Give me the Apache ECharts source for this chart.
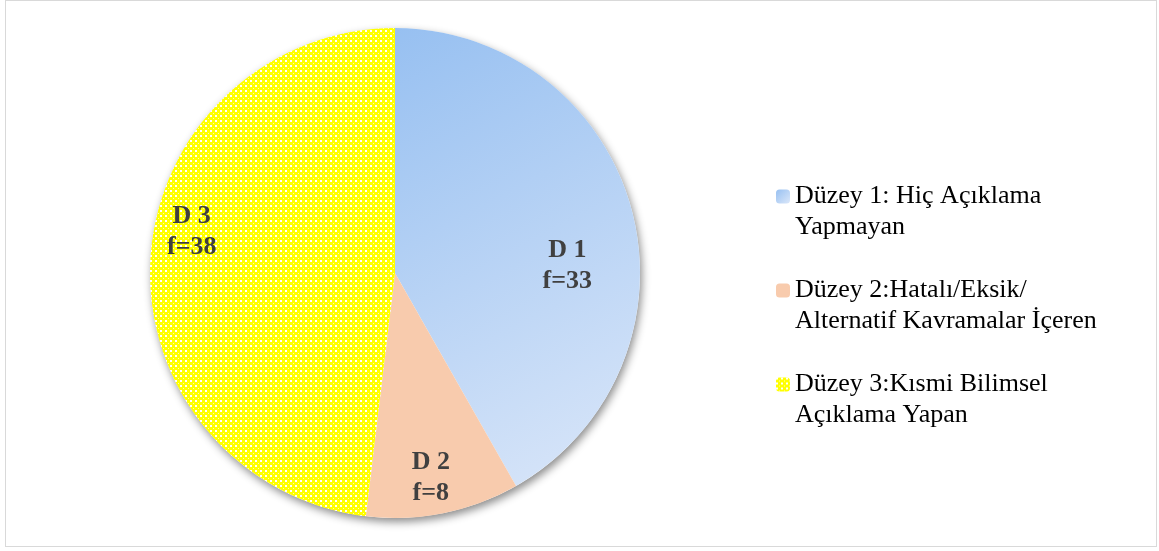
<!DOCTYPE html>
<html>
<head>
<meta charset="utf-8">
<script src="https://cdn.jsdelivr.net/npm/echarts@6/dist/echarts.min.js"></script>
<style>
  html, body { margin: 0; padding: 0; background: #fff; }
  #frame { position: absolute; left: 5px; top: 0; width: 1152px; height: 547px; border: 1px solid #d9d9d9; box-sizing: border-box; }
  #chart { position: absolute; left: 0; top: 0; width: 1159px; height: 551px; }
</style>
</head>
<body>
<div id="frame"></div>
<div id="chart"></div>
<script>
// Response levels and their frequencies
const categories = [
  'Düzey 1: Hiç Açıklama\nYapmayan',
  'Düzey 2:Hatalı/Eksik/\nAlternatif Kavramalar İçeren',
  'Düzey 3:Kısmi Bilimsel\nAçıklama Yapan'
];
const shortNames = ['D 1', 'D 2', 'D 3'];
const frequencies = [33, 8, 38];

// Label nudges from the default inside position
const labelOffsets = [[51, 25], [11, 82], [-78, -34]];

// Yellow tile with white dots for level 3
function makeLattice() {
  const c = document.createElement('canvas');
  c.width = 5; c.height = 5;
  const g = c.getContext('2d');
  g.fillStyle = '#ffff00';
  g.fillRect(0, 0, 5, 5);
  g.fillStyle = '#ffffff';
  g.fillRect(0, 0, 2, 2);
  g.fillStyle = '#ffffb8';
  g.fillRect(3, 3, 1, 1);
  return c;
}

const sliceColors = [
  new echarts.graphic.LinearGradient(0, 0, 1, 1, [
    { offset: 0, color: '#97c0f1' },
    { offset: 1, color: '#dbe7f9' }
  ]),
  '#f8cbad',
  { image: makeLattice(), repeat: 'repeat' }
];

const chart = echarts.init(document.getElementById('chart'), null, { renderer: 'canvas' });

const pieData = frequencies.map((v, i) => ({
  name: categories[i],
  value: v,
  itemStyle: { color: sliceColors[i] },
  label: { offset: labelOffsets[i] }
}));

chart.setOption({
  animation: false,
  backgroundColor: 'transparent',
  legend: {
    orient: 'vertical',
    left: 776,
    top: 150,
    padding: 0,
    itemWidth: 14,
    itemHeight: 14,
    itemGap: 1,
    data: categories,
    // leading blank line keeps the marker level with the first text line
    formatter: name => '\n' + name,
    textStyle: {
      fontFamily: 'Liberation Serif',
      fontSize: 26,
      lineHeight: 31,
      color: '#000'
    }
  },
  series: [
    {
      // soft drop shadow beneath the whole disc
      type: 'pie',
      silent: true,
      center: [395, 273],
      radius: 245,
      z: 1,
      label: { show: false },
      labelLine: { show: false },
      itemStyle: {
        color: '#ffffff',
        shadowColor: 'rgba(0,0,0,0.45)',
        shadowBlur: 9,
        shadowOffsetX: 2,
        shadowOffsetY: 4
      },
      data: [{ name: '_disc', value: 1 }],
      legendHoverLink: false
    },
    {
      type: 'pie',
      center: [395, 273],
      radius: 245,
      startAngle: 90,
      clockwise: true,
      z: 2,
      itemStyle: { borderWidth: 0 },
      label: {
        show: true,
        position: 'inside',
        formatter: p => shortNames[p.dataIndex] + '\nf=' + p.value,
        fontFamily: 'Liberation Serif',
        fontWeight: 'bold',
        fontSize: 26,
        lineHeight: 31,
        color: '#404040',
        align: 'center'
      },
      labelLine: { show: false },
      emphasis: { disabled: true },
      data: pieData
    }
  ]
});
</script>
</body>
</html>
